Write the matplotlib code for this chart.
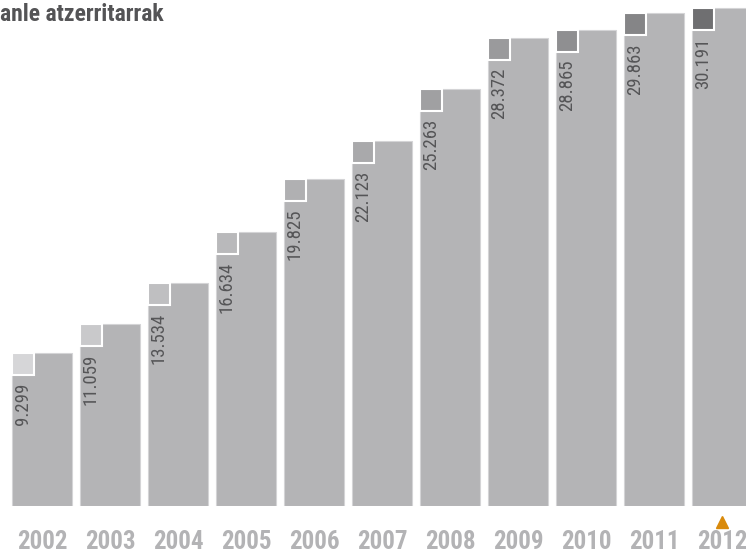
import matplotlib
matplotlib.use("Agg")
import matplotlib.pyplot as plt
from matplotlib.patches import Rectangle
from matplotlib import font_manager

years = ["2002", "2003", "2004", "2005", "2006", "2007", "2008", "2009", "2010", "2011", "2012"]
values = [9.299, 11.059, 13.534, 16.634, 19.825, 22.123, 25.263, 28.372, 28.865, 29.863, 30.191]
labels = ["9.299", "11.059", "13.534", "16.634", "19.825", "22.123", "25.263", "28.372", "28.865", "29.863", "30.191"]
square_colors = ["#d6d6d8", "#c9c9cb", "#bfbfc1", "#b9b9bb", "#b0b0b2", "#a9a9ab",
                 "#a0a0a2", "#9a9a9c", "#8f8f91", "#858587", "#6f6f71"]
title = "anle atzerritarrak"

installed = {f.name for f in font_manager.fontManager.ttflist}
cands = ["Roboto Condensed", "Liberation Sans Narrow", "DejaVu Sans Condensed", "Liberation Sans"]
FONT = [c for c in cands if c in installed] + ["DejaVu Sans"]
narrow = FONT[0] in ("Liberation Sans Narrow", "DejaVu Sans Condensed", "Roboto Condensed")

W, H = 746, 555
fig = plt.figure(figsize=(W / 100, H / 100), dpi=100)
base_px = 506          # pixel row (from top) of the baseline
px_per_unit = 16.5     # pixels per thousand
pitch = 68.0
ax = fig.add_axes([0, (H - base_px) / H, 1, base_px / H])
ax.set_xlim(-42 / pitch, (W - 42) / pitch)
ax.set_ylim(0, base_px / px_per_unit)
ax.axis("off")

bw = 60 / pitch
sq_w = 22 / pitch
sq_h = 22 / px_per_unit
lab_fs = 13.5 if narrow else 12.5
yr_fs = 18 if narrow else 16
for i, v in enumerate(values):
    left = i - bw / 2
    ax.add_patch(Rectangle((left, 0), bw, v, facecolor="#b4b4b6",
                           edgecolor="#d4d4d6", linewidth=0.8))
    ax.add_patch(Rectangle((left, v - sq_h), sq_w, sq_h, facecolor=square_colors[i],
                           edgecolor="white", linewidth=1.5))
    ax.text(left + 11 / pitch, v - 30 / px_per_unit, labels[i], rotation=90,
            ha="center", va="top", fontsize=lab_fs, color="#555557", family=FONT)
    fig.text((42 + pitch * i) / W, 1 / H, years[i], ha="center", va="bottom",
             fontsize=yr_fs, fontweight="heavy", color="#b3b3b5", family=FONT)

ax.plot([10], [-(522 - base_px) / px_per_unit], marker="^", markersize=9,
        color="#d98a0b", clip_on=False, linestyle="none")

fig.text(0, 1 - 3 / H, title, ha="left", va="top", fontsize=17,
         fontweight="heavy", color="#545456", family=FONT)

fig.savefig("out.png", dpi=100)
